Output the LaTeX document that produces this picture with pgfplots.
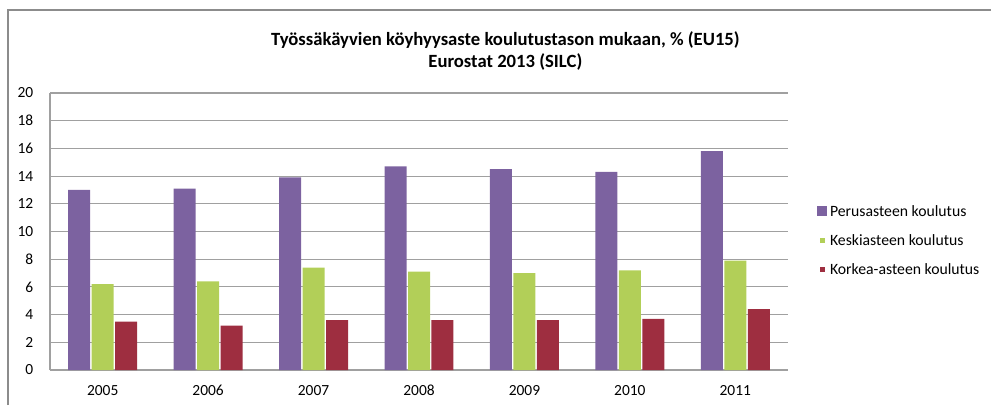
\documentclass[border=0pt]{standalone}
\usepackage{pgfplots}
\pgfplotsset{compat=1.18}
\usepackage{fontspec}
\setmainfont{Carlito}
\definecolor{cpurple}{RGB}{124,98,160}
\definecolor{cgreen}{RGB}{178,207,88}
\definecolor{cred}{RGB}{158,46,64}
\definecolor{cgrid}{RGB}{160,160,160}
\definecolor{cframe}{RGB}{140,140,140}
\begin{document}
\begin{tikzpicture}
\path[use as bounding box] (0pt,0pt) rectangle (743.25pt,303.75pt);
\draw[cframe, line width=1.1pt] (6pt,0pt) -- (6pt,296.25pt) -- (743.25pt,296.25pt);
\node[font=\bfseries\fontsize{14}{16}\selectfont] at (379pt,273.75pt) {Työssäkäyvien köyhyysaste koulutustason mukaan, \% (EU15)};
\node[font=\bfseries\fontsize{14}{16}\selectfont] at (379pt,257.25pt) {Eurostat 2013 (SILC)};
\begin{axis}[
  at={(37.5pt,26.25pt)}, anchor=south west,
  scale only axis, width=553.5pt, height=207.75pt,
  ybar=1.1pt, bar width=16.5pt,
  xmin=-0.5, xmax=6.5, ymin=0, ymax=20,
  ytick={0,2,...,20},
  xtick={0,...,6},
  xticklabels={2005,2006,2007,2008,2009,2010,2011},
  major tick length=0pt,
  ymajorgrids, grid style={cgrid, line width=0.8pt},
  axis x line*=bottom, axis y line*=left,
  axis line style={cgrid, line width=0.9pt, -},
  tick label style={font=\fontsize{11.6}{13}\selectfont},
  /pgf/number format/assume math mode=true,
  yticklabel style={xshift=-9pt},
  xticklabel style={yshift=-8pt},
  legend style={at={(1.034,0.466)}, anchor=west, draw=none, fill=none,
    font=\fontsize{11.8}{13}\selectfont, row sep=8.3pt,
    cells={anchor=west}},
  legend cell align=left,
]
\addplot[fill=cpurple, draw=none,
  legend image code/.code={\fill[cpurple] (0pt,-3.4pt) rectangle (7.5pt,4.1pt);}]
  coordinates {(0,13.0) (1,13.1) (2,13.9) (3,14.7) (4,14.5) (5,14.3) (6,15.8)};
\addplot[fill=cgreen, draw=none,
  legend image code/.code={\fill[cgreen] (1.8pt,-1.6pt) rectangle (5.7pt,2.3pt);}]
  coordinates {(0,6.2) (1,6.4) (2,7.4) (3,7.1) (4,7.0) (5,7.2) (6,7.9)};
\addplot[fill=cred, draw=none,
  legend image code/.code={\fill[cred] (1.8pt,-1.6pt) rectangle (5.7pt,2.3pt);}]
  coordinates {(0,3.5) (1,3.2) (2,3.6) (3,3.6) (4,3.6) (5,3.7) (6,4.4)};
\legend{Perusasteen koulutus, Keskiasteen koulutus, Korkea-asteen koulutus}
\end{axis}
\end{tikzpicture}
\end{document}
